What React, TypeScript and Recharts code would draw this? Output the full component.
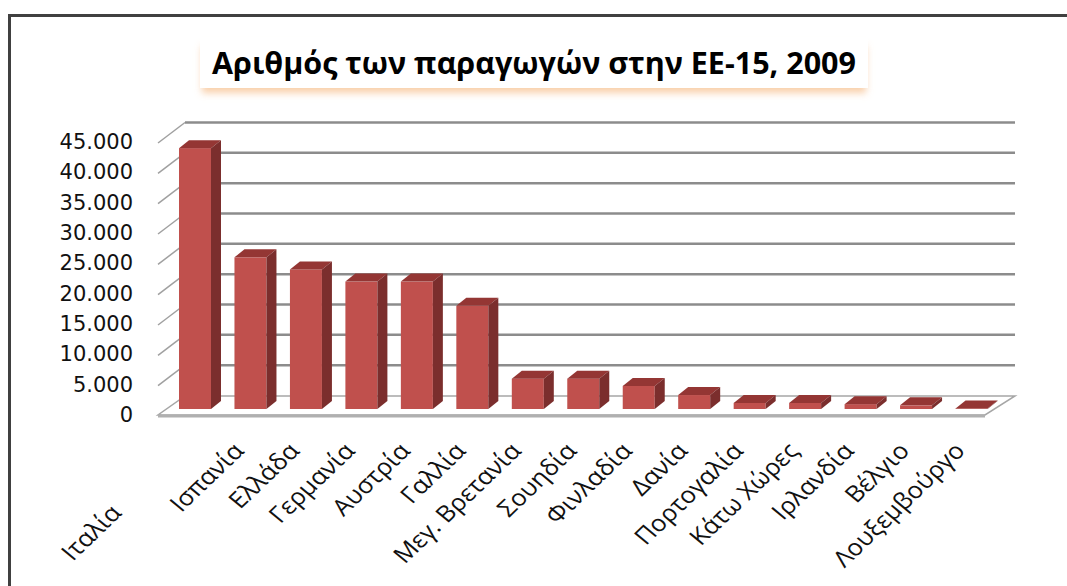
import React from "react"
import { Bar, BarChart, CartesianGrid, XAxis, YAxis } from "recharts"

const categories = [
  "Ιταλία",
  "Ισπανία",
  "Ελλάδα",
  "Γερμανία",
  "Αυστρία",
  "Γαλλία",
  "Μεγ. Βρετανία",
  "Σουηδία",
  "Φινλαδία",
  "Δανία",
  "Πορτογαλία",
  "Κάτω Χώρες",
  "Ιρλανδία",
  "Βέλγιο",
  "Λουξεμβούργο",
]
const producers = [43000, 25000, 23000, 21000, 21000, 17000, 5000, 5000, 3800, 2300, 1000, 1000, 800, 600, 100]
const yTicks = [0, 5000, 10000, 15000, 20000, 25000, 30000, 35000, 40000, 45000]

const data = categories.map((country, i) => ({ country, producers: producers[i] }))

const W = 1067
const H = 586
const PLOT_BOTTOM = 409

const fmt = (v: number) => String(v).replace(/\B(?=(\d{3})+(?!\d))/g, ".")

// 3D column: front face, top and right side
function Column(props: any) {
  const { x, y, width, height } = props
  if (width == null || height == null) return null
  const dx = 10
  const dy = -8
  const w = width
  const h = Math.max(height, 0)
  return (
    <g>
      <rect x={x} y={y} width={w} height={h} fill="#c0504d" />
      <polygon points={`${x},${y} ${x + dx},${y + dy} ${x + w + dx},${y + dy} ${x + w},${y}`} fill="#943634" />
      <polygon
        points={`${x + w},${y} ${x + w + dx},${y + dy} ${x + w + dx},${y + h + dy} ${x + w},${y + h}`}
        fill="#7b2e2d"
      />
    </g>
  )
}

function GridLine(props: any) {
  const { x1, x2, y1 } = props
  const y = y1
  if (Math.abs(y - PLOT_BOTTOM) < 1) {
    return (
      <g>
        <polygon
          points={`${x1 - 9},${y + 6} ${x2 - 14},${y + 6} ${x2 + 16},${y - 13} ${x1 + 18},${y - 13}`}
          fill="#fff"
          stroke="#a6a6a6"
          strokeWidth={1.5}
        />
        <line x1={x1 - 9} y1={y + 7} x2={x2 - 14} y2={y + 7} stroke="#b0b0b0" strokeWidth={3} />
      </g>
    )
  }
  return (
    <g>
      <line x1={x1 + 18} y1={y - 13.5} x2={x2 + 16} y2={y - 13.5} stroke="#8c8c8c" strokeWidth={2.5} />
      <line x1={x1 - 9} y1={y + 7} x2={x1 + 18} y2={y - 13.5} stroke="#a0a0a0" strokeWidth={1.5} />
    </g>
  )
}

function YTick(props: any) {
  const { x, y, payload } = props
  return (
    <text x={x} y={y + 6} dy={7} textAnchor="end" fontFamily="DejaVu Sans" fontSize={21} fill="#111">
      {fmt(payload.value)}
    </text>
  )
}

function XTick(props: any) {
  const { x, y, payload, index } = props
  let ex = x - 5
  let ey = y + 35
  if (index === 0) {
    ex -= 67
    ey += 62
  }
  return (
    <g transform={`translate(${ex},${ey}) scale(1.12,1) rotate(-47)`}>
      <text x={0} y={0} textAnchor="end" fontFamily="Open Sans" fontSize={23} fill="#111">
        {payload.value}
      </text>
    </g>
  )
}

export default function App() {
  return (
    <div style={{ position: "absolute", left: 0, top: 0, width: W, height: H, overflow: "hidden", background: "#fff" }}>
      <div
        style={{
          position: "absolute",
          left: 8,
          top: 14,
          width: W,
          height: H,
          borderTop: "3px solid #404040",
          borderLeft: "3px solid #404040",
        }}
      />
      <div
        style={{
          position: "absolute",
          left: 200,
          top: 37,
          width: 668,
          height: 51,
          background: "#fff",
          boxShadow: "0 7px 7px -2px rgba(248, 196, 150, 0.8)",
          textAlign: "center",
          lineHeight: "50px",
          fontFamily: "Open Sans",
          fontWeight: 700,
          fontSize: 30.5,
          color: "#000",
        }}
      >
        Αριθμός των παραγωγών στην ΕΕ-15, 2009
      </div>
      <div style={{ position: "absolute", left: 0, top: 0 }}>
        <BarChart width={W} height={H} data={data} margin={{ top: 136, right: 68, bottom: 147, left: 0 }}>
          <CartesianGrid vertical={false} horizontal={(p: any) => <GridLine key={p.key} {...p} />} />
          <XAxis
            dataKey="country"
            height={30}
            axisLine={false}
            tickLine={false}
            interval={0}
            tick={(p: any) => <XTick {...p} />}
          />
          <YAxis
            width={167}
            domain={[0, 45000]}
            ticks={yTicks}
            axisLine={false}
            tickLine={false}
            tickSize={0}
            tickMargin={34}
            tick={(p: any) => <YTick {...p} />}
          />
          <Bar dataKey="producers" barSize={32} shape={(p: any) => <Column {...p} />} isAnimationActive={false} />
        </BarChart>
      </div>
    </div>
  )
}
